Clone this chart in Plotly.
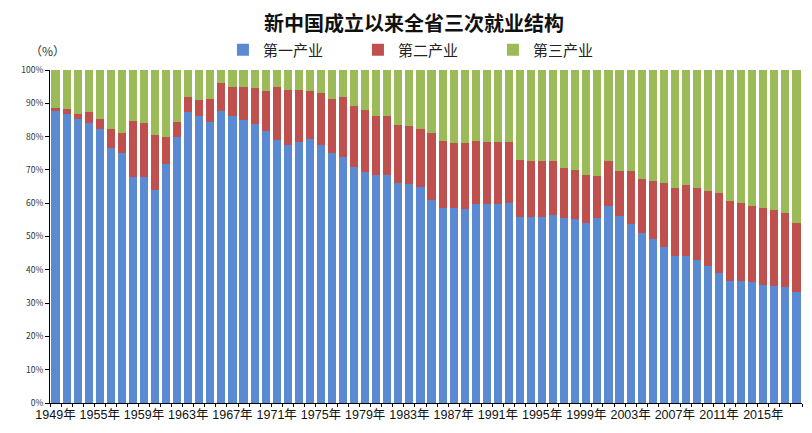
import plotly.graph_objects as go

# Years on the category axis (1950 and 1951 are not in the source chart)
years = [1949] + list(range(1952, 2019))
year_labels = [f"{y}年" for y in years]

# Cumulative tops (%): top of blue bar, top of red bar
primary_top = [87.8, 86.8, 85.2, 84.2, 82.4, 76.7, 75.2, 68.0, 67.8, 64.0,
               71.8, 79.8, 87.5, 86.2, 84.5, 87.7, 86.2, 85.0, 83.7, 81.8,
               79.0, 77.6, 78.5, 79.3, 77.4, 75.0, 74.0, 71.0, 69.5, 68.5,
               68.5, 66.0, 65.8, 65.0, 61.0, 58.7, 58.7, 58.3, 59.8, 59.7,
               59.8, 60.2, 55.8, 55.8, 55.8, 56.4, 55.6, 55.2, 54.2, 55.5,
               59.3, 56.2, 53.8, 51.0, 49.2, 46.8, 44.0, 44.2, 42.8, 41.2,
               39.0, 36.6, 36.6, 36.4, 35.4, 35.2, 34.8, 33.2]
secondary_top = [88.6, 88.3, 86.8, 87.4, 85.3, 82.3, 81.2, 84.7, 84.2, 80.5,
                 79.9, 84.5, 92.0, 91.0, 91.3, 96.2, 95.0, 95.0, 94.6, 93.8,
                 95.0, 94.0, 94.0, 93.7, 93.0, 91.4, 92.0, 89.2, 88.0, 86.2,
                 86.2, 83.5, 83.2, 82.3, 81.2, 78.7, 78.2, 78.0, 78.8, 78.5,
                 78.5, 78.5, 73.0, 72.7, 72.7, 72.7, 70.7, 70.0, 68.5, 68.2,
                 72.8, 69.7, 69.8, 67.3, 66.7, 66.0, 64.6, 65.4, 64.6, 63.7,
                 63.0, 60.7, 60.0, 59.3, 58.6, 58.0, 57.2, 54.2]

primary = [round(p, 1) for p in primary_top]
secondary = [round(s - p, 1) for s, p in zip(secondary_top, primary_top)]
tertiary = [round(100 - s, 1) for s in secondary_top]

# Colours for each industry
series = [("第一产业", primary, "#5A8BD2"),
          ("第二产业", secondary, "#C0504D"),
          ("第三产业", tertiary, "#9BBB59")]

fig = go.Figure()
for name, vals, col in series:
    fig.add_trace(go.Bar(x=year_labels, y=vals, name=name, marker_color=col,
                         marker_line_width=0))

# Only every 4th year is labelled, but every bar gets a tick mark
tick_text = [lab if i % 4 == 0 else "" for i, lab in enumerate(year_labels)]

# page has an 8px body margin, so everything is laid out 8px up/left
fig.update_layout(
    barmode="stack",
    bargap=0.27,
    width=812, height=433,
    margin=dict(l=42, r=18, t=62, b=38, autoexpand=False),
    paper_bgcolor="white",
    plot_bgcolor="white",
    font=dict(family="Noto Sans CJK SC, Liberation Sans, sans-serif", color="#222"),
    title=dict(text="<b>新中国成立以来全省三次就业结构</b>", x=0.5, xanchor="center",
               yref="container", y=1 - 16 / 433, yanchor="middle",
               font=dict(size=20, color="#111")),
    legend=dict(orientation="h", x=0.23, xanchor="left",
                yref="container", y=1 - 42 / 433, yanchor="middle",
                font=dict(size=15, color="#222"),
                traceorder="normal", entrywidth=90),
    showlegend=True,
)

fig.update_xaxes(
    type="category",
    tickmode="array", tickvals=year_labels, ticktext=tick_text,
    tickson="boundaries", ticks="outside", ticklen=3, tickcolor="#000",
    showline=True, linecolor="#000", linewidth=1,
    tickfont=dict(size=12.5, family="Liberation Sans, Noto Sans CJK SC, sans-serif", color="#111"),
    tickangle=0, automargin=False,
    showgrid=False,
)

fig.update_yaxes(
    range=[0, 100],
    tickmode="array",
    tickvals=[0, 10, 20, 30, 40, 50, 60, 70, 80, 90, 100],
    ticktext=["0%", "10%", "20%", "30%", "40%", "50%", "60%", "70%", "80%", "90%", "100%"],
    ticks="outside", ticklen=4, tickcolor="#000",
    showline=True, linecolor="#000", linewidth=1,
    showgrid=False, zeroline=False, automargin=False,
    tickfont=dict(size=8.5, color="#333"),
)

fig.add_annotation(text="（%）", xref="paper", yref="paper", x=-0.003, y=1 + 20 / 333,
                   xanchor="center", yanchor="middle", showarrow=False,
                   font=dict(size=12, color="#333"))

fig.write_html("out.html")
